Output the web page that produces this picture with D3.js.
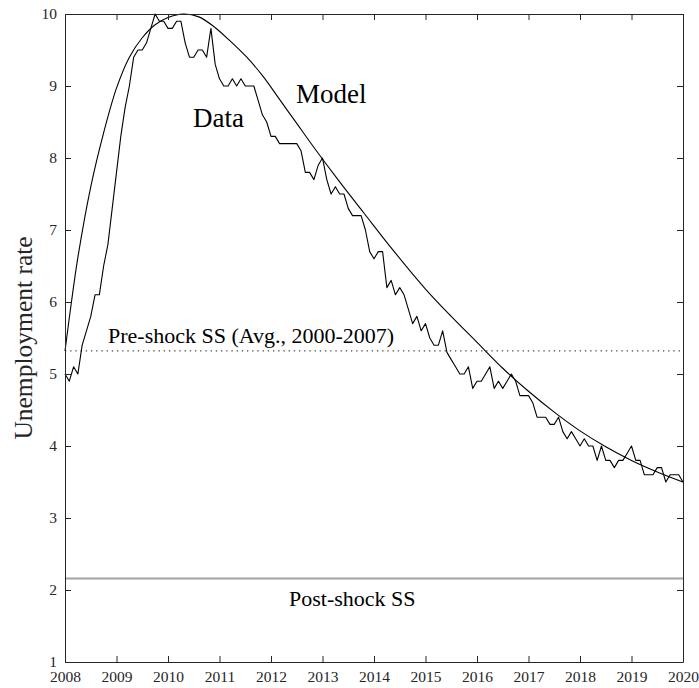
<!DOCTYPE html>
<html>
<head>
<meta charset="utf-8">
<script src="https://cdn.jsdelivr.net/npm/d3@7"></script>
<style>
  body { margin: 0; background: #fff; }
  svg { display: block; font-family: "Liberation Serif", "DejaVu Serif", serif; }
</style>
</head>
<body>
<svg id="chart" width="699" height="688"></svg>
<script>
// monthly unemployment rate, Jan 2008 .. Jan 2020
const dataStart = 2008;
const dataValues = [
  5.0, 4.9, 5.1, 5.0, 5.4, 5.6, 5.8, 6.1, 6.1, 6.5, 6.8, 7.3,
  7.8, 8.3, 8.7, 9.0, 9.4, 9.5, 9.5, 9.6, 9.8, 10.0, 9.9, 9.9,
  9.8, 9.8, 9.9, 9.9, 9.6, 9.4, 9.4, 9.5, 9.5, 9.4, 9.8, 9.3,
  9.1, 9.0, 9.0, 9.1, 9.0, 9.1, 9.0, 9.0, 9.0, 8.8, 8.6, 8.5,
  8.3, 8.3, 8.2, 8.2, 8.2, 8.2, 8.2, 8.1, 7.8, 7.8, 7.7, 7.9,
  8.0, 7.7, 7.5, 7.6, 7.5, 7.5, 7.3, 7.2, 7.2, 7.2, 7.0, 6.7,
  6.6, 6.7, 6.7, 6.2, 6.3, 6.1, 6.2, 6.1, 5.9, 5.7, 5.8, 5.6,
  5.7, 5.5, 5.4, 5.4, 5.6, 5.3, 5.2, 5.1, 5.0, 5.0, 5.1, 4.8,
  4.9, 4.9, 5.0, 5.1, 4.8, 4.9, 4.8, 4.9, 5.0, 4.9, 4.7, 4.7,
  4.7, 4.6, 4.4, 4.4, 4.4, 4.3, 4.3, 4.4, 4.2, 4.1, 4.2, 4.1,
  4.0, 4.1, 4.0, 4.0, 3.8, 4.0, 3.8, 3.8, 3.7, 3.8, 3.8, 3.9,
  4.0, 3.8, 3.8, 3.6, 3.6, 3.6, 3.7, 3.7, 3.5, 3.6, 3.6, 3.6,
  3.5
];

// model path
const modelYears = [2008.0, 2008.125, 2008.25, 2008.5, 2008.75, 2009.0, 2009.25, 2009.5,
  2009.75, 2010.0, 2010.3, 2010.6, 2010.9, 2011.2, 2011.53, 2011.85, 2012.17, 2012.5,
  2012.82, 2013.3, 2013.8, 2014.37, 2015.0, 2015.5, 2016.0, 2016.5, 2017.0, 2017.5,
  2018.0, 2018.5, 2019.0, 2019.5, 2020.0];
const modelValues = [5.32, 6.0, 6.62, 7.6, 8.35, 8.97, 9.4, 9.67,
  9.85, 9.95, 10.0, 9.96, 9.82, 9.63, 9.4, 9.13, 8.81, 8.48,
  8.16, 7.7, 7.24, 6.72, 6.18, 5.8, 5.44, 5.08, 4.76, 4.47,
  4.21, 3.99, 3.80, 3.64, 3.50];

const preShockSS = 5.32;
const postShockSS = 2.16;

const xTicks = d3.range(2008, 2021);
const yTicks = d3.range(1, 11);

const margin = { top: 14, right: 16, bottom: 26, left: 65 };
const width = 699, height = 688;
const innerWidth = width - margin.left - margin.right;
const innerHeight = height - margin.top - margin.bottom;
const axisColor = "#262626";

const svg = d3.select("#chart");
const g = svg.append("g").attr("transform", `translate(${margin.left},${margin.top})`);

const x = d3.scaleLinear().domain([2008, 2020]).range([0, innerWidth]);
const y = d3.scaleLinear().domain([1, 10]).range([innerHeight, 0]);

// steady state lines
g.append("line")
  .attr("x1", 0).attr("x2", innerWidth)
  .attr("y1", y(postShockSS)).attr("y2", y(postShockSS))
  .attr("stroke", "#a3a3a3").attr("stroke-width", 1.8);

g.append("line")
  .attr("x1", 0).attr("x2", innerWidth)
  .attr("y1", y(preShockSS)).attr("y2", y(preShockSS))
  .attr("stroke", "#444").attr("stroke-width", 1.3)
  .attr("stroke-dasharray", "1.3,3.9");

// data + model lines
const dataLine = d3.line()
  .x((d, i) => x(dataStart + i / 12))
  .y(d => y(d));

g.append("path")
  .datum(dataValues)
  .attr("fill", "none")
  .attr("stroke", "#000")
  .attr("stroke-width", 1.1)
  .attr("stroke-linejoin", "round")
  .attr("d", dataLine);

const modelLine = d3.line()
  .x((d, i) => x(modelYears[i]))
  .y(d => y(d))
  .curve(d3.curveCatmullRom.alpha(0.5));

g.append("path")
  .datum(modelValues)
  .attr("fill", "none")
  .attr("stroke", "#000")
  .attr("stroke-width", 1.1)
  .attr("d", modelLine);

// axes box, ticks pointing in
function styleAxis(sel) {
  sel.select(".domain").attr("stroke", axisColor);
  sel.selectAll(".tick line").attr("stroke", axisColor);
  sel.selectAll(".tick text")
    .attr("fill", axisColor)
    .style("font-family", '"Liberation Serif", "DejaVu Serif", serif')
    .style("font-size", "15.5px");
}

g.append("g")
  .call(d3.axisLeft(y).tickValues(yTicks).tickSize(-6).tickSizeOuter(0).tickPadding(8))
  .call(styleAxis);

g.append("g")
  .attr("transform", `translate(0,${innerHeight})`)
  .call(d3.axisBottom(x).tickValues(xTicks).tickFormat(d3.format("d"))
    .tickSize(-6).tickSizeOuter(0).tickPadding(9))
  .call(styleAxis);

g.append("g")
  .call(d3.axisTop(x).tickValues(xTicks).tickFormat("").tickSize(-6).tickSizeOuter(0))
  .call(styleAxis);

g.append("g")
  .attr("transform", `translate(${innerWidth},0)`)
  .call(d3.axisRight(y).tickValues(yTicks).tickFormat("").tickSize(-6).tickSizeOuter(0))
  .call(styleAxis);

// labels
svg.append("text")
  .attr("transform", "translate(32,338) rotate(-90)")
  .attr("text-anchor", "middle")
  .attr("fill", axisColor)
  .style("font-size", "25.5px")
  .text("Unemployment rate");

svg.append("text")
  .attr("x", 296).attr("y", 103)
  .style("font-size", "27px")
  .text("Model");

svg.append("text")
  .attr("x", 193).attr("y", 127)
  .style("font-size", "27px")
  .text("Data");

svg.append("text")
  .attr("x", 108).attr("y", 343)
  .style("font-size", "22px")
  .text("Pre-shock SS (Avg., 2000-2007)");

svg.append("text")
  .attr("x", 289).attr("y", 606)
  .style("font-size", "22px")
  .text("Post-shock SS");
</script>
</body>
</html>
